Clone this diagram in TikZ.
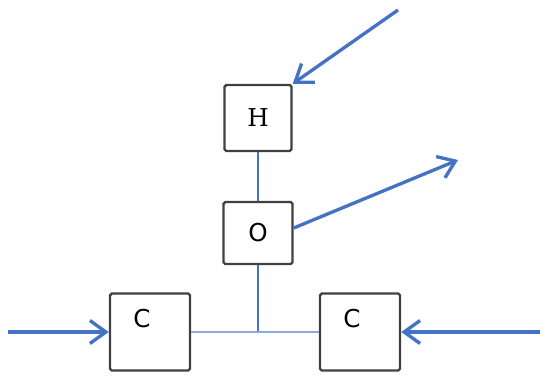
\documentclass[tikz,border=0pt]{standalone}
\usepackage{fontspec}
\newfontfamily\boxsans{DejaVu Sans}
\newfontfamily\boxserif{DejaVu Serif}
\usetikzlibrary{arrows.meta, positioning, calc}
\definecolor{bondblue}{HTML}{4472C4}
\definecolor{bondlight}{HTML}{8EA9DB}
\definecolor{boxgray}{HTML}{404040}

\tikzset{
  atom/.style={draw=boxgray, line width=1.4pt, rounded corners=1pt, fill=white, inner sep=0pt},
  bond/.style={bondblue, line width=1.1pt},
  push/.style={bondblue, line width=1.9pt, -{Straight Barb[length=3.2mm, width=4.6mm]}}
}

\begin{document}
\begin{tikzpicture}[font=\fontsize{14}{16}\selectfont]
  \useasboundingbox (0,0) rectangle (11,-7.68);

  % atoms
  \node[atom, minimum width=1.34cm, minimum height=1.32cm, font=\fontsize{14}{16}\boxserif] (hyd) at (5.16,-2.36) {H};
  \node[atom, minimum width=1.38cm, minimum height=1.24cm, font=\fontsize{14}{16}\boxsans] (oxy) at (5.16,-4.66) {O};
  \node[atom, minimum width=1.6cm, minimum height=1.54cm,
        label={[font=\fontsize{14}{16}\boxsans, shift={(-0.16,0.26)}]center:C}] (cleft) at (3.0,-6.64) {};
  \node[atom, minimum width=1.6cm, minimum height=1.54cm,
        label={[font=\fontsize{14}{16}\boxsans, shift={(-0.16,0.26)}]center:C}] (cright) at (7.2,-6.64) {};

  % bonds
  \coordinate (joint) at (oxy.south |- cleft.east);
  \draw[bond] (hyd.south) -- (oxy.north);
  \draw[bond] (oxy.south) -- (joint);
  \draw[bondlight, line width=1.3pt] (cleft.east) -- (cright.west);

  % incoming and outgoing arrows
  \coordinate (hstart) at (7.96,-0.2);
  \coordinate (lstart) at (0.16,-6.64);
  \coordinate (rstart) at (10.8,-6.64);
  \coordinate (oend) at (9.16,-3.2);
  \draw[push] (hstart) -- (hyd.north east);
  \draw[push] ($(oxy.east)+(0,0.1)$) -- (oend);
  \draw[push] (lstart) -- (cleft.west);
  \draw[push] (rstart) -- (cright.east);
\end{tikzpicture}
\end{document}
